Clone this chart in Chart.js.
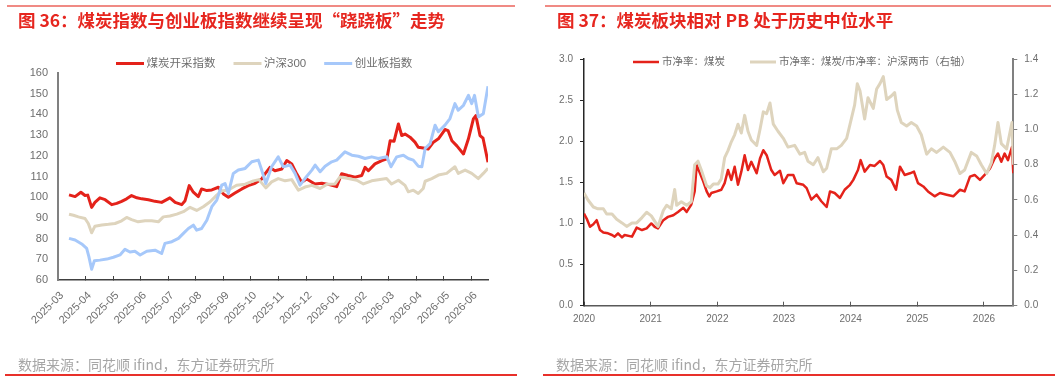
<!DOCTYPE html>
<html lang="zh">
<head>
<meta charset="utf-8">
<title>煤炭指数与煤炭板块PB</title>
<script src="https://cdn.jsdelivr.net/npm/chart.js@4.4.1/dist/chart.umd.min.js"></script>
<style>
  body { margin: 0; width: 1061px; height: 378px; background: #fff; position: relative; overflow: hidden; font-family: "Noto Sans CJK SC", sans-serif; }
  canvas, .title, .source, .rule, .foot { position: absolute; }
  canvas { top: 0; }
  .rule { top: 5px; height: 2px; background: #f08a84; }
  .title { top: 9px; font-size: 17.5px; font-weight: bold; color: #e6261f; line-height: 22px; white-space: nowrap; }
  .source { top: 355px; font-size: 14px; color: #a6a6a6; line-height: 18px; white-space: nowrap; }
  .foot { top: 374px; height: 2px; background: #e8302a; }
</style>
</head>
<body>
<div class="rule" style="left:7px;width:508px"></div>
<div class="rule" style="left:545px;width:506px"></div>
<canvas id="left" width="530" height="378" style="left:0"></canvas>
<canvas id="right" width="531" height="378" style="left:530px"></canvas>
<div class="title" style="left:18px">图 36：煤炭指数与创业板指数继续呈现“跷跷板”走势</div>
<div class="title" style="left:557px">图 37：煤炭板块相对 PB 处于历史中位水平</div>
<div class="source" style="left:18px">数据来源：同花顺 ifind，东方证券研究所</div>
<div class="source" style="left:556px">数据来源：同花顺 ifind，东方证券研究所</div>
<div class="foot" style="left:5px;width:512px"></div>
<div class="foot" style="left:543px;width:512px"></div>
<script>
// 左图：月份序号（0 = 2025-03）
const monthLabels = ["2025-03", "2025-04", "2025-05", "2025-06", "2025-07", "2025-08", "2025-09", "2025-10",
  "2025-11", "2025-12", "2026-01", "2026-02", "2026-03", "2026-04", "2026-05", "2026-06"];

const coalMonth = [0.40, 0.62, 0.83, 0.98, 1.08, 1.22, 1.34, 1.52, 1.71, 1.95, 2.13, 2.31, 2.49, 2.67, 2.86, 3.04,
  3.28, 3.52, 3.76, 4.06, 4.25, 4.49, 4.61, 4.76, 4.91, 5.09, 5.21, 5.40, 5.58, 5.82, 6.00, 6.18, 6.42, 6.67, 6.90,
  7.15, 7.39, 7.51, 7.69, 7.87, 8.12, 8.30, 8.48, 8.66, 8.84, 9.02, 9.32, 9.57, 9.81, 10.11, 10.29, 10.52, 10.78,
  11.02, 11.14, 11.26, 11.50, 11.75, 11.93, 12.05, 12.19, 12.35, 12.47, 12.59, 12.77, 12.95, 13.07, 13.25, 13.43,
  13.62, 13.80, 14.04, 14.15, 14.29, 14.47, 14.71, 14.89, 15.07, 15.16, 15.31, 15.42, 15.60];
const coalIdx = [101.1, 100.3, 102.4, 100.8, 101.0, 95.1, 97.5, 99.7, 98.8, 96.4, 97.0, 98.0, 99.2, 100.8, 99.7, 99.2,
  98.8, 98.0, 97.5, 99.7, 97.5, 96.4, 98.3, 105.6, 102.4, 100.3, 104.0, 103.2, 103.5, 104.8, 101.6, 100.0, 102.0,
  104.0, 105.6, 106.7, 108.8, 111.3, 114.4, 112.8, 113.6, 117.7, 116.1, 111.3, 107.2, 108.8, 106.4, 106.7, 106.2,
  105.1, 111.3, 110.5, 109.7, 110.5, 114.4, 112.8, 116.1, 117.7, 118.5, 127.3, 127.0, 135.4, 129.8, 130.5, 129.0,
  126.6, 124.1, 123.8, 123.3, 126.6, 128.2, 132.7, 132.2, 127.3, 124.8, 120.9, 128.2, 137.8, 139.4, 129.8, 128.5, 116.9];

const hsMonth = [0.40, 0.56, 0.74, 0.98, 1.10, 1.22, 1.34, 1.59, 1.83, 2.07, 2.31, 2.49, 2.67, 2.91, 3.16, 3.40, 3.64,
  3.82, 4.06, 4.31, 4.55, 4.79, 5.03, 5.27, 5.52, 5.76, 5.94, 6.18, 6.48, 6.79, 7.09, 7.29, 7.54, 7.75, 7.99, 8.24,
  8.48, 8.72, 8.96, 9.21, 9.51, 9.75, 10.05, 10.23, 10.53, 10.84, 11.08, 11.38, 11.68, 11.92, 12.10, 12.35, 12.59,
  12.71, 12.89, 13.07, 13.25, 13.32, 13.56, 13.80, 14.10, 14.40, 14.52, 14.77, 15.01, 15.25, 15.43, 15.60];
const hsIdx = [91.8, 91.3, 90.5, 89.7, 87.3, 82.8, 86.0, 86.6, 86.9, 87.3, 88.6, 90.2, 89.2, 88.1, 88.6, 88.6, 88.1,
  90.5, 90.9, 91.8, 93.0, 95.1, 93.6, 95.4, 97.8, 101.0, 103.0, 103.5, 105.8, 106.3, 107.9, 108.5, 104.5, 107.4,
  109.0, 107.9, 108.5, 103.4, 104.9, 105.7, 104.2, 106.2, 106.4, 109.8, 109.0, 108.2, 106.4, 107.9, 108.5, 109.0,
  106.4, 108.2, 105.7, 102.6, 103.4, 101.8, 104.2, 107.7, 109.0, 110.7, 111.5, 114.7, 111.5, 113.1, 111.5, 109.0,
  111.5, 114.0];

const cyMonth = [0.40, 0.62, 0.86, 1.04, 1.12, 1.22, 1.32, 1.52, 1.77, 2.01, 2.25, 2.43, 2.61, 2.79, 2.98, 3.22, 3.52,
  3.76, 3.88, 4.13, 4.37, 4.55, 4.73, 4.91, 5.03, 5.21, 5.40, 5.58, 5.76, 5.94, 6.06, 6.18, 6.36, 6.54, 6.79, 7.03,
  7.27, 7.39, 7.54, 7.75, 7.99, 8.17, 8.42, 8.60, 8.78, 8.96, 9.21, 9.33, 9.51, 9.69, 9.93, 10.11, 10.41, 10.66,
  10.90, 11.14, 11.38, 11.62, 11.93, 12.08, 12.29, 12.53, 12.71, 12.89, 13.07, 13.20, 13.32, 13.50, 13.68, 13.80,
  14.04, 14.22, 14.40, 14.52, 14.71, 14.89, 15.01, 15.11, 15.25, 15.43, 15.60];
const cyIdx = [80.1, 79.3, 77.4, 75.3, 71.3, 65.2, 69.3, 69.6, 70.1, 71.0, 72.1, 74.8, 73.5, 73.9, 72.1, 73.9, 74.4,
  72.8, 77.7, 78.5, 80.1, 82.5, 84.9, 86.5, 84.1, 84.9, 88.9, 95.4, 98.6, 105.8, 106.6, 101.8, 111.5, 113.1, 113.9,
  117.1, 117.9, 113.1, 106.6, 114.7, 119.5, 114.7, 115.5, 111.5, 105.8, 109.0, 113.1, 115.5, 112.3, 115.0, 117.1,
  117.9, 121.9, 120.3, 119.8, 118.7, 119.5, 118.7, 119.5, 114.7, 119.5, 120.3, 118.7, 117.9, 115.0, 114.7, 123.5,
  125.9, 134.8, 131.6, 134.8, 138.0, 145.2, 142.0, 144.4, 149.2, 145.2, 149.2, 138.8, 140.3, 153.6];

// 右图：年份（小数）
const yearLabels = ["2020", "2021", "2022", "2023", "2024", "2025", "2026"];

const pbYear = [2020.00, 2020.04, 2020.09, 2020.14, 2020.19, 2020.24, 2020.29, 2020.36, 2020.42, 2020.46, 2020.51,
  2020.57, 2020.61, 2020.72, 2020.79, 2020.87, 2020.94, 2021.01, 2021.06, 2021.11, 2021.19, 2021.26, 2021.34,
  2021.41, 2021.49, 2021.54, 2021.61, 2021.66, 2021.69, 2021.74, 2021.79, 2021.84, 2021.88, 2021.91, 2021.99,
  2022.06, 2022.11, 2022.16, 2022.21, 2022.26, 2022.31, 2022.36, 2022.41, 2022.46, 2022.51, 2022.59, 2022.64,
  2022.69, 2022.74, 2022.81, 2022.86, 2022.94, 2022.99, 2023.06, 2023.14, 2023.19, 2023.29, 2023.34, 2023.41,
  2023.49, 2023.56, 2023.64, 2023.69, 2023.76, 2023.84, 2023.91, 2023.99, 2024.04, 2024.11, 2024.15, 2024.21,
  2024.29, 2024.36, 2024.44, 2024.49, 2024.54, 2024.61, 2024.68, 2024.74, 2024.81, 2024.89, 2024.95, 2025.01,
  2025.09, 2025.16, 2025.26, 2025.34, 2025.44, 2025.54, 2025.64, 2025.71, 2025.79, 2025.86, 2025.94, 2026.01,
  2026.09, 2026.16, 2026.21, 2026.26, 2026.31, 2026.36, 2026.42, 2026.44];
const pbCoal = [1.12, 1.06, 0.96, 0.99, 1.04, 0.92, 0.89, 0.88, 0.86, 0.84, 0.88, 0.83, 0.86, 0.84, 0.95, 0.92, 0.94,
  1.00, 0.96, 0.94, 1.04, 1.08, 1.10, 1.14, 1.19, 1.14, 1.23, 1.39, 1.71, 1.61, 1.51, 1.39, 1.33, 1.37, 1.39, 1.41,
  1.49, 1.65, 1.53, 1.69, 1.47, 1.63, 1.83, 1.65, 1.75, 1.61, 1.79, 1.89, 1.83, 1.65, 1.59, 1.64, 1.49, 1.59, 1.59,
  1.49, 1.47, 1.43, 1.29, 1.35, 1.27, 1.20, 1.39, 1.37, 1.31, 1.41, 1.47, 1.53, 1.65, 1.77, 1.63, 1.71, 1.70, 1.76,
  1.71, 1.57, 1.53, 1.41, 1.69, 1.59, 1.61, 1.63, 1.49, 1.45, 1.39, 1.33, 1.37, 1.35, 1.33, 1.41, 1.39, 1.57, 1.59,
  1.53, 1.59, 1.67, 1.79, 1.85, 1.75, 1.85, 1.77, 1.93, 1.61];

const ratioYear = [2020.00, 2020.06, 2020.14, 2020.21, 2020.29, 2020.34, 2020.42, 2020.49, 2020.57, 2020.64, 2020.72,
  2020.79, 2020.87, 2020.94, 2021.01, 2021.06, 2021.11, 2021.19, 2021.24, 2021.31, 2021.36, 2021.39, 2021.46,
  2021.54, 2021.61, 2021.66, 2021.71, 2021.76, 2021.84, 2021.89, 2021.94, 2022.01, 2022.06, 2022.11, 2022.16,
  2022.21, 2022.26, 2022.31, 2022.36, 2022.41, 2022.46, 2022.51, 2022.59, 2022.64, 2022.69, 2022.74, 2022.79,
  2022.84, 2022.91, 2022.99, 2023.06, 2023.16, 2023.24, 2023.31, 2023.36, 2023.44, 2023.51, 2023.59, 2023.64,
  2023.71, 2023.79, 2023.86, 2023.94, 2024.01, 2024.06, 2024.10, 2024.14, 2024.21, 2024.26, 2024.34, 2024.39,
  2024.44, 2024.49, 2024.54, 2024.61, 2024.66, 2024.70, 2024.76, 2024.84, 2024.91, 2024.99, 2025.06, 2025.14,
  2025.21, 2025.29, 2025.39, 2025.49, 2025.56, 2025.64, 2025.71, 2025.81, 2025.89, 2025.96, 2026.04, 2026.11,
  2026.16, 2026.21, 2026.26, 2026.34, 2026.42, 2026.44];
const ratioVal = [0.64, 0.60, 0.56, 0.55, 0.55, 0.52, 0.52, 0.49, 0.47, 0.45, 0.47, 0.47, 0.50, 0.53, 0.51, 0.48,
  0.45, 0.54, 0.57, 0.55, 0.66, 0.57, 0.59, 0.57, 0.59, 0.80, 0.82, 0.77, 0.68, 0.67, 0.69, 0.69, 0.72, 0.84, 0.88,
  0.93, 0.97, 1.03, 0.98, 1.08, 0.99, 0.94, 0.91, 1.00, 1.10, 1.09, 1.15, 1.03, 0.99, 0.95, 0.90, 0.91, 0.86, 0.87,
  0.82, 0.80, 0.84, 0.76, 0.78, 0.89, 0.89, 0.91, 0.95, 1.06, 1.14, 1.26, 1.22, 1.06, 1.18, 1.12, 1.23, 1.26, 1.30,
  1.17, 1.19, 1.21, 1.11, 1.04, 1.02, 1.04, 1.02, 0.97, 0.86, 0.89, 0.87, 0.90, 0.87, 0.82, 0.75, 0.77, 0.87, 0.85,
  0.80, 0.75, 0.81, 0.91, 1.04, 0.92, 0.89, 1.04, 0.80];

const RED = "rgb(228, 34, 26)";
const BEIGE = "rgb(222, 212, 189)";
const BLUE = "rgb(166, 200, 250)";
const TICK = "#6e6e6e";

Chart.defaults.font.family = '"Liberation Sans", "Noto Sans CJK SC", sans-serif';

const pts = (xs, ys) => xs.map((x, i) => ({ x: x, y: ys[i] }));

// 图例：短线 + 文字，按数据集顺序画在图上方
const lineLegend = {
  id: "lineLegend",
  afterDraw(chart, args, opts) {
    const ctx = chart.ctx;
    let x = opts.x;
    ctx.save();
    ctx.font = opts.font;
    ctx.textBaseline = "middle";
    ctx.fillStyle = opts.color;
    for (const ds of chart.data.datasets) {
      ctx.strokeStyle = ds.borderColor;
      ctx.lineWidth = ds.borderWidth;
      ctx.beginPath();
      ctx.moveTo(x, opts.y);
      ctx.lineTo(x + opts.len, opts.y);
      ctx.stroke();
      x += opts.len + opts.gap;
      ctx.fillText(ds.label, x, opts.y);
      x += ctx.measureText(ds.label).width + opts.spacing;
    }
    ctx.restore();
  },
};

new Chart(document.getElementById("left"), {
  type: "line",
  data: {
    datasets: [
      { label: "煤炭开采指数", data: pts(coalMonth, coalIdx), borderColor: RED, borderWidth: 3, order: 2 },
      { label: "沪深300", data: pts(hsMonth, hsIdx), borderColor: BEIGE, borderWidth: 3, order: 1 },
      { label: "创业板指数", data: pts(cyMonth, cyIdx), borderColor: BLUE, borderWidth: 3, order: 0 },
    ],
  },
  options: {
    responsive: false,
    animation: false,
    events: [],
    layout: { padding: { left: 0, top: 73, right: 42, bottom: 38 } },
    elements: { point: { radius: 0 }, line: { tension: 0, borderJoinStyle: "round" } },
    plugins: {
      legend: { display: false },
      tooltip: { enabled: false },
      lineLegend: { x: 116, y: 63.5, len: 28, gap: 2.5, spacing: 18, font: '11.5px "Liberation Sans", "Noto Sans CJK SC"', color: TICK },
    },
    scales: {
      x: {
        type: "linear",
        min: 0,
        max: 15.6,
        afterFit: (s) => { s.height = 60; },
        // 刻度线朝内
        grid: { drawOnChartArea: false, tickLength: -4, color: "#404040" },
        border: { color: "#404040", width: 1.5 },
        ticks: {
          stepSize: 1, includeBounds: false, autoSkip: false, minRotation: 45, maxRotation: 45,
          padding: 13, labelOffset: 4, color: TICK, font: { size: 11 },
          callback: (v) => monthLabels[v],
        },
      },
      y: {
        min: 60,
        max: 160,
        afterFit: (s) => { s.width = 58; },
        grid: { display: false, drawTicks: false },
        border: { color: "#808080", width: 2 },
        ticks: { stepSize: 10, padding: 10, color: TICK, font: { size: 11 } },
      },
    },
  },
  plugins: [lineLegend],
});

new Chart(document.getElementById("right"), {
  type: "line",
  data: {
    datasets: [
      { label: "市净率：煤炭", data: pts(pbYear, pbCoal), borderColor: RED, borderWidth: 2.5, yAxisID: "y", order: 1 },
      { label: "市净率：煤炭/市净率：沪深两市（右轴）", data: pts(ratioYear, ratioVal), borderColor: BEIGE, borderWidth: 3, yAxisID: "y2", order: 0 },
    ],
  },
  options: {
    responsive: false,
    animation: false,
    events: [],
    layout: { padding: { left: 0, top: 59, right: 7.7, bottom: 42.3 } },
    elements: { point: { radius: 0 }, line: { tension: 0, borderJoinStyle: "round" } },
    plugins: {
      legend: { display: false },
      tooltip: { enabled: false },
      lineLegend: { x: 103, y: 62, len: 26, gap: 3, spacing: 25, font: '10.5px "Liberation Sans", "Noto Sans CJK SC"', color: TICK },
    },
    scales: {
      x: {
        type: "linear",
        min: 2020,
        max: 2026.44,
        afterFit: (s) => { s.height = 30; },
        grid: { drawOnChartArea: false, tickLength: -4, color: "#595959" },
        border: { color: "#595959", width: 1.5 },
        ticks: {
          stepSize: 1, includeBounds: false, maxRotation: 0, padding: 11.5, color: TICK, font: { size: 10 },
          callback: (v) => yearLabels[v - 2020],
        },
      },
      y: {
        position: "left",
        min: 0,
        max: 3,
        afterFit: (s) => { s.width = 54; },
        grid: { drawOnChartArea: false, tickLength: 4, color: "#262626" },
        border: { color: "#262626", width: 1.5 },
        ticks: { stepSize: 0.5, padding: 7, color: TICK, font: { size: 10 }, callback: (v) => v.toFixed(1) },
      },
      y2: {
        position: "right",
        min: 0,
        max: 1.4,
        afterFit: (s) => { s.width = 40; },
        grid: { drawOnChartArea: false, tickLength: 4, color: "#808080" },
        border: { color: "#808080", width: 2 },
        ticks: { stepSize: 0.2, padding: 7, color: TICK, font: { size: 10 }, callback: (v) => v.toFixed(1) },
      },
    },
  },
  plugins: [lineLegend],
});
</script>
</body>
</html>
